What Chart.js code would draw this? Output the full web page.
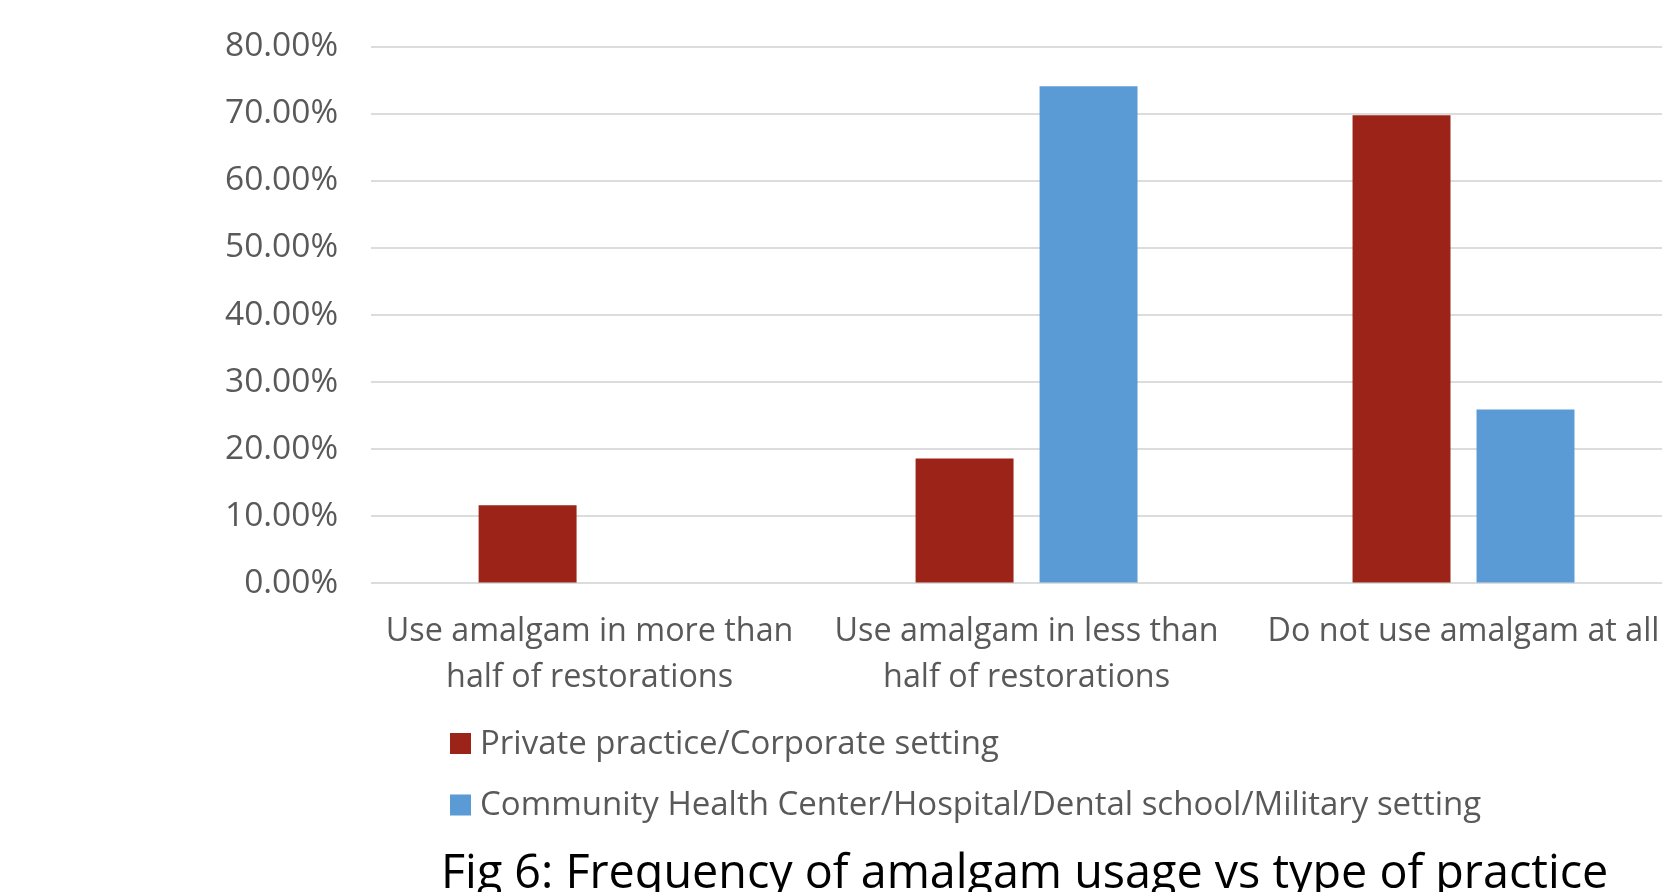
<!DOCTYPE html>
<html>
<head>
<meta charset="utf-8">
<script src="https://cdn.jsdelivr.net/npm/chart.js@4.4.1/dist/chart.umd.min.js"></script>
<style>
  html, body { margin: 0; padding: 0; background: #ffffff; overflow: hidden; }
  #wrap { width: 1662px; height: 892px; position: relative; overflow: hidden; }
  #c { position: absolute; left: 0; top: 0; }
</style>
</head>
<body>
<div id="wrap"><canvas id="c" width="1682" height="892"></canvas></div>
<script>
// Categories (multi-line axis labels)
const categories = [
  ['Use amalgam in more than', 'half of restorations'],
  ['Use amalgam in less than', 'half of restorations'],
  ['Do not use amalgam at all']
];

// Series names
const seriesNames = [
  'Private practice/Corporate setting',
  'Community Health Center/Hospital/Dental school/Military setting'
];

// Share of respondents (%) per practice type
const privatePractice = [11.63, 18.60, 69.77];
const communitySetting = [0, 74.07, 25.93];

// Value axis ticks
const yMin = 0;
const yMax = 80;
const yStep = 10;

const captionText = 'Fig 6: Frequency of amalgam usage vs type of practice';

const RED = '#9B2318';
const BLUE = '#5B9BD5';
const TEXT_GRAY = '#595959';
const FONT = '"Open Sans", "Noto Sans", sans-serif';

// Legend stacked one entry per row, plus the figure caption underneath
const stackedLegend = {
  id: 'stackedLegend',
  afterDraw(chart) {
    const ctx = chart.ctx;
    ctx.save();
    ctx.font = '33px ' + FONT;
    ctx.textBaseline = 'middle';
    ctx.textAlign = 'left';
    chart.data.datasets.forEach((ds, i) => {
      const cy = 743.5 + i * 61.5;
      ctx.fillStyle = ds.backgroundColor;
      ctx.fillRect(450, cy - 10.5, 21, 21);
      ctx.fillStyle = TEXT_GRAY;
      ctx.fillText(ds.label, 480, cy + 1);
    });
    ctx.font = '46.7px ' + FONT;
    ctx.fillStyle = '#000000';
    ctx.textBaseline = 'alphabetic';
    ctx.fillText(captionText, 441, 888);
    ctx.restore();
  }
};

new Chart(document.getElementById('c'), {
  type: 'bar',
  data: {
    labels: categories,
    datasets: [
      {
        label: seriesNames[0],
        data: privatePractice,
        backgroundColor: RED,
        borderWidth: 0,
        categoryPercentage: 0.5675,
        barPercentage: 0.79
      },
      {
        label: seriesNames[1],
        data: communitySetting,
        backgroundColor: BLUE,
        borderWidth: 0,
        categoryPercentage: 0.5675,
        barPercentage: 0.79
      }
    ]
  },
  options: {
    responsive: false,
    animation: false,
    devicePixelRatio: 1,
    layout: {
      padding: { top: 46.5, left: 225, right: 0, bottom: 191.5 }
    },
    plugins: {
      legend: { display: false },
      title: { display: false },
      tooltip: { enabled: false }
    },
    scales: {
      x: {
        border: { display: false },
        grid: {
          display: true,
          drawOnChartArea: false,
          drawTicks: true,
          tickLength: 26,
          color: 'rgba(0,0,0,0)',
          tickColor: 'rgba(0,0,0,0)'
        },
        ticks: {
          color: TEXT_GRAY,
          padding: 0,
          maxRotation: 0,
          autoSkip: false,
          font: { family: FONT, size: 32.3, lineHeight: 1.41 }
        }
      },
      y: {
        min: yMin,
        max: yMax,
        border: { display: false },
        grid: {
          color: '#DCDCDC',
          lineWidth: 2,
          drawTicks: true,
          tickLength: 33,
          tickColor: 'rgba(0,0,0,0)'
        },
        ticks: {
          stepSize: yStep,
          color: TEXT_GRAY,
          padding: 0,
          font: { family: FONT, size: 33.5 },
          callback: (v) => Number(v).toFixed(2) + '%'
        }
      }
    }
  },
  plugins: [stackedLegend]
});
</script>
</body>
</html>
